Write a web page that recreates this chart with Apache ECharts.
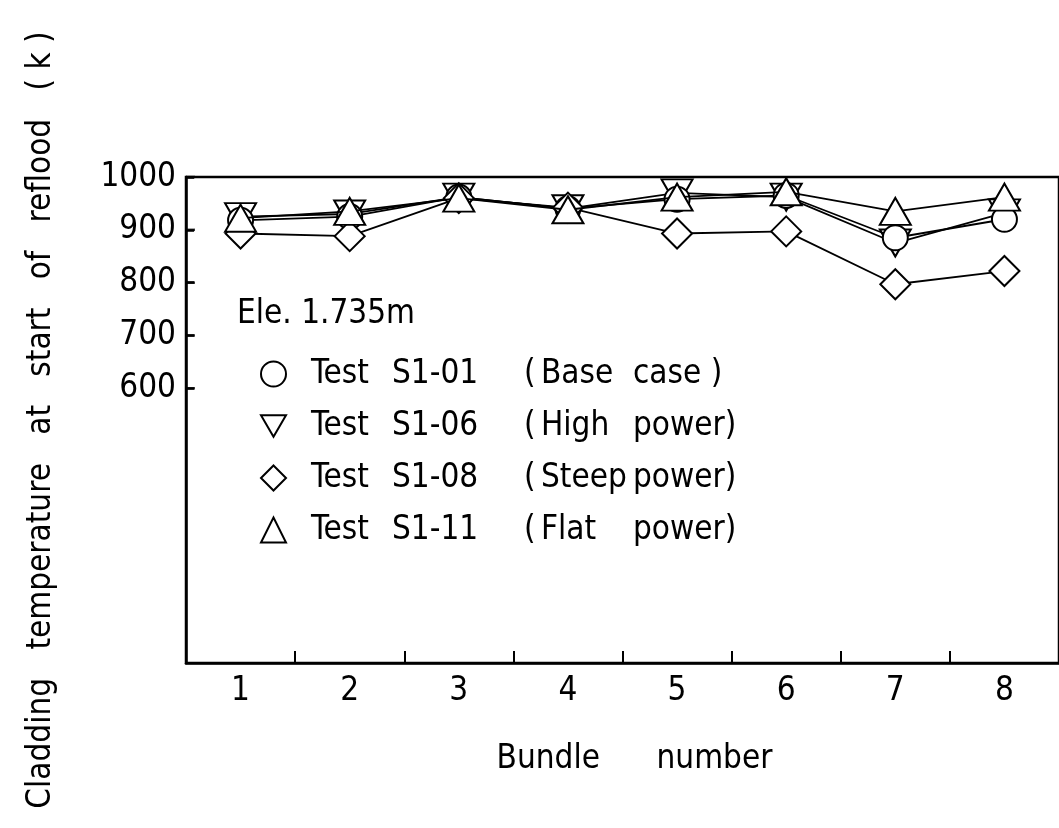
<!DOCTYPE html>
<html>
<head>
<meta charset="utf-8">
<script src="https://cdn.jsdelivr.net/npm/echarts@6/dist/echarts.min.js"></script>
<style>
  html, body { margin: 0; padding: 0; background: #fff; }
  #chart { width: 1059px; height: 828px; }
</style>
</head>
<body>
<div id="chart"></div>
<script>
// bundle numbers on the x axis
const bundles = ['1', '2', '3', '4', '5', '6', '7', '8']
// y range of the plot and the labelled ticks
const yMin = 80
const yMax = 1000
const yTicks = [600, 700, 800, 900, 1000]

// legend pieces
const testIds = ['S1-01', 'S1-06', 'S1-08', 'S1-11']
const caseWord1 = ['Base', 'High', 'Steep', 'Flat']
const caseWord2 = ['case )', 'power)', 'power)', 'power)']

// cladding temperature at start of reflood (K)
const s101 = [918, 925, 962, 940, 958, 965, 885, 920]
const s106 = [925, 930, 962, 940, 970, 962, 875, 932]
const s108 = [893, 888, 960, 942, 893, 897, 797, 822]
const s111 = [922, 935, 960, 938, 962, 972, 935, 962]

const FONT = '"Liberation Sans Narrow", "DejaVu Sans Condensed", "Liberation Sans", sans-serif'

const chart = echarts.init(document.getElementById('chart'))

const names = testIds.map((id, i) => 'Test ' + id + ' ( ' + caseWord1[i] + ' ' + caseWord2[i])
// open down-pointing triangle for S1-06
const downTri = 'path://M0,0 L20,0 L10,17.3 Z'
const icons = ['circle', downTri, 'diamond', 'triangle']

const makeSeries = (i, data, symbol, size, rotate, z) => ({
  name: names[i],
  type: 'line',
  xAxisIndex: 0,
  yAxisIndex: 0,
  data: data,
  symbol: symbol,
  symbolSize: size,
  symbolRotate: rotate,
  showSymbol: true,
  z: z,
  lineStyle: { color: '#000', width: 1.8 },
  itemStyle: { color: '#fff', borderColor: '#000', borderWidth: 2 },
  emphasis: { disabled: true },
  animation: false
})

const option = {
  backgroundColor: '#fff',
  textStyle: { fontFamily: FONT, color: '#000' },
  grid: {
    left: 186,
    right: -8,
    top: 177,
    bottom: 165,
    show: true,
    borderColor: '#000',
    borderWidth: 2.5
  },
  xAxis: [
    {
      type: 'category',
      data: bundles,
      boundaryGap: true,
      name: 'Bundle      number',
      nameLocation: 'middle',
      nameGap: 80,
      nameTextStyle: { fontSize: 33, color: '#000', fontFamily: FONT, padding: [0, 0, 0, 24] },
      axisLine: { show: true, lineStyle: { color: '#000', width: 2.5 } },
      axisTick: { show: true, interval: 0, inside: true, length: 12, lineStyle: { color: '#000', width: 2 } },
      axisLabel: { fontSize: 33, color: '#000', fontFamily: FONT, margin: 12 },
      splitLine: { show: false },
      z: 10
    },
    {
      // helper axis so the y tick marks can sit on the left edge of the plot
      type: 'value',
      min: 0,
      max: 1,
      show: false
    }
  ],
  yAxis: {
    type: 'value',
    min: yMin,
    max: yMax,
    name: 'Cladding   temperature   at   start   of   reflood   ( k )',
    nameLocation: 'middle',
    nameRotate: 90,
    nameGap: 128,
    nameTextStyle: { fontSize: 33, color: '#000', fontFamily: FONT },
    axisLine: { show: true, lineStyle: { color: '#000', width: 2.5 } },
    axisTick: { show: true, inside: true, length: 8, customValues: yTicks, lineStyle: { color: '#000', width: 2.5 } },
    axisLabel: {
      show: true, fontSize: 33, color: '#000', fontFamily: FONT, margin: 10,
      customValues: yTicks, formatter: v => String(v)
    },
    splitLine: { show: false },
    z: 10
  },
  legend: {
    orient: 'vertical',
    left: 255,
    top: 352,
    itemWidth: 25,
    itemHeight: 25,
    itemGap: 18,
    data: names.map((n, i) => ({ name: n, icon: icons[i], itemStyle: { color: '#fff', borderColor: '#000', borderWidth: 2 } })),
    textStyle: {
      fontSize: 33,
      lineHeight: 34,
      color: '#000',
      fontFamily: FONT,
      rich: {
        t: { fontSize: 33, fontFamily: FONT, width: 81, padding: [0, 0, 0, 20] },
        n: { fontSize: 33, fontFamily: FONT, width: 132 },
        p: { fontSize: 33, fontFamily: FONT, width: 17 },
        w: { fontSize: 33, fontFamily: FONT, width: 92 },
        c: { fontSize: 33, fontFamily: FONT }
      }
    },
    formatter: name => {
      const i = names.indexOf(name)
      return '{t|Test}{n|' + testIds[i] + '}{p|(}{w|' + caseWord1[i] + '}{c|' + caseWord2[i] + '}'
    }
  },
  graphic: [
    {
      type: 'text',
      left: 237,
      top: 298,
      style: { text: 'Ele. 1.735m', fontSize: 33, fontFamily: FONT, fill: '#000' }
    }
  ],
  series: [
    makeSeries(1, s106, 'triangle', [31, 27], 180, 2),
    makeSeries(0, s101, 'circle', 25, 0, 3),
    makeSeries(2, s108, 'diamond', [30, 30], 0, 4),
    makeSeries(3, s111, 'triangle', [31, 27], 0, 5),
    {
      // inner tick marks on the left axis at 600..1000
      name: 'yTickMarks',
      type: 'scatter',
      xAxisIndex: 1,
      yAxisIndex: 0,
      data: yTicks.map(v => [0, v]),
      symbol: 'rect',
      symbolSize: [9, 2.5],
      symbolOffset: [4.5, 0],
      itemStyle: { color: '#000' },
      silent: true,
      z: 11,
      animation: false
    }
  ]
}

chart.setOption(option)
window.addEventListener('resize', () => chart.resize())
</script>
</body>
</html>
